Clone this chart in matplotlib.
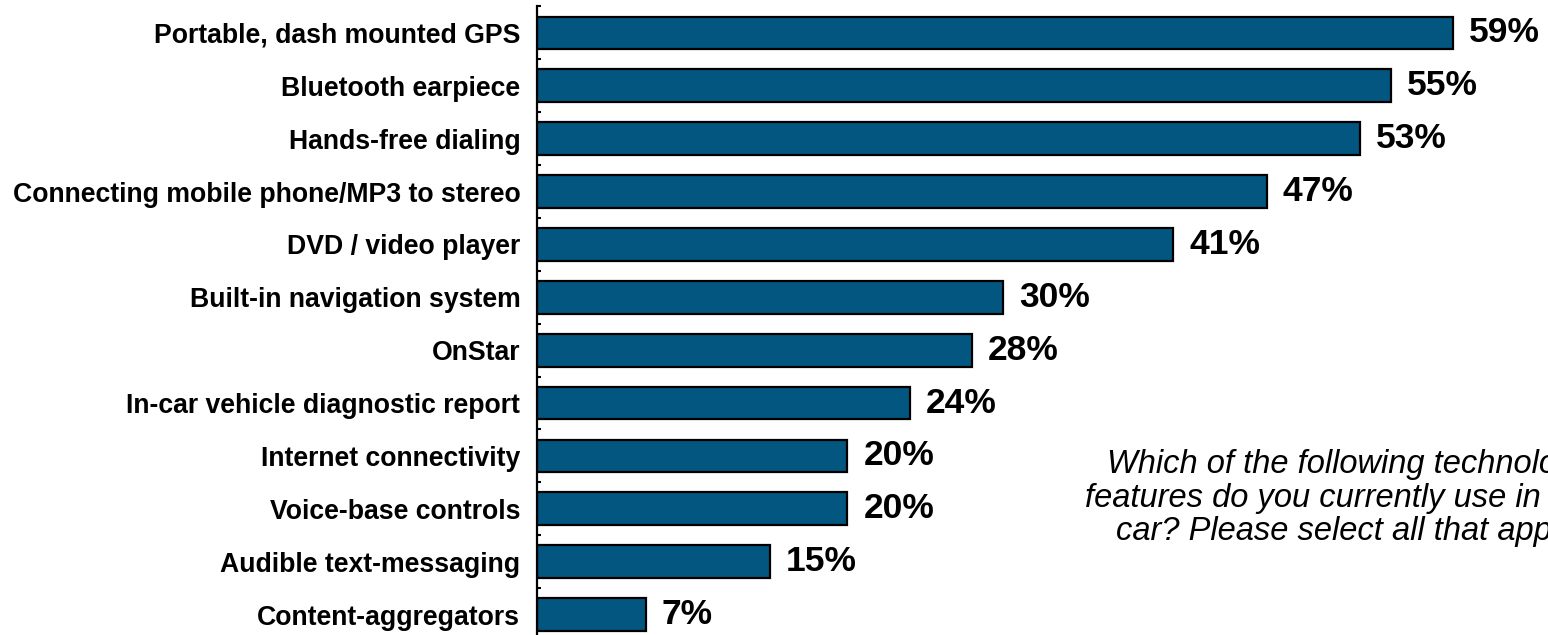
import matplotlib
matplotlib.use("Agg")
import matplotlib.pyplot as plt
import numpy as np

features = [
    "Portable, dash mounted GPS",
    "Bluetooth earpiece",
    "Hands-free dialing",
    "Connecting mobile phone/MP3 to stereo",
    "DVD / video player",
    "Built-in navigation system",
    "OnStar",
    "In-car vehicle diagnostic report",
    "Internet connectivity",
    "Voice-base controls",
    "Audible text-messaging",
    "Content-aggregators",
]
usage_pct = [59, 55, 53, 47, 41, 30, 28, 24, 20, 20, 15, 7]
question = ("Which of the following technology\n"
            "features do you currently use in your\n"
            "car? Please select all that apply.")

plt.rcParams['font.family'] = ['Liberation Sans', 'DejaVu Sans']

fig = plt.figure(figsize=(15.48, 6.35), dpi=100)
ax = fig.add_axes([537 / 1548, -0.0094, 1009 / 1548, 0.9992])

y = np.arange(len(features))
ax.barh(y, usage_pct, height=0.62, color='#02567f', edgecolor='black', linewidth=1.6)

for yi, v in zip(y, usage_pct):
    ax.text(v + 1.05, yi, f"{v}%", va='center', ha='left',
            fontsize=25.5, fontweight='bold', color='black')

ax.set_ylim(len(features) - 0.5, -0.5)
ax.set_xlim(0, 65)
ax.set_yticks(y)
ax.set_yticklabels(features, fontsize=19.2, fontweight='bold')
ax.tick_params(axis='y', length=0, pad=12)
ax.set_yticks(np.arange(-0.5, len(features), 1), minor=True)
ax.tick_params(axis='y', which='minor', direction='in', length=3, width=1.5)
ax.set_xticks([])

for s in ['top', 'right', 'bottom']:
    ax.spines[s].set_visible(False)
ax.spines['left'].set_linewidth(1.6)

# question text runs past the right edge, as in the original slide
ax.text(35.3, 8.8, question, ha='left', va='center', multialignment='center',
        fontsize=23.5, style='italic', linespacing=1.1, clip_on=False)

fig.savefig("out.png", dpi=100)
